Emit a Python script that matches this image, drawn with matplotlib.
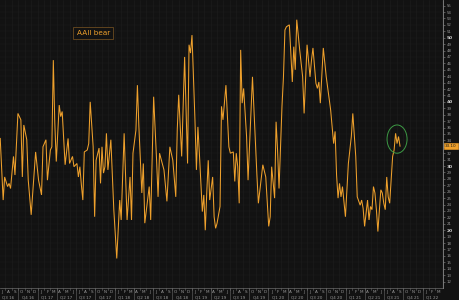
import numpy as np
import pandas as pd
import matplotlib
matplotlib.use("Agg")
import matplotlib.pyplot as plt
import matplotlib.dates as mdates
import matplotlib.transforms as mtransforms
from matplotlib.patches import Ellipse

# ---- data (AAII bearish %, weekly; week offsets from first survey date) ----
start_date = "2016-07-07"
week_offsets = [0,2,3,5,6,7,9,10,12,14,
                15,16,18,19,21,24,26,28,29,31,
                32,34,35,36,37,38,40,41,42,44,
                46,47,49,50,52,53,54,55,56,57,
                59,60,61,63,64,65,67,68,69,70,
                71,72,73,75,77,79,81,82,84,86,
                88,89,90,92,93,94,96,97,98,101,
                102,104,106,107,108,111,113,115,117,119,
                120,121,123,125,127,128,129,130,132,133,
                134,135,137,138,139,140,141,142,144,145,
                146,147,149,150,151,153,155,156,158,159,
                160,161,162,163,164,165,167,168,171,173,
                174,175,177,178,180,182,183,184,186,187,
                188,189,191,192,193,194,196,197,198,199,
                200,201,203,205,206,208,210,211,212,214,
                215,216,217,219,221,224,226,227,228,229,
                230,231,232,234,235,236,238,239,241,242,
                244,245,246,247,249,250,251,252,253,254,
                255,256,258,259,260,261,262,263,264,266,
                267,268,269,270,271]
bear_pct = [34.3,24.7,28.3,26.8,27.3,26.5,31.5,28.6,38.2,37.2,
            28.3,36.4,34.1,27.8,22.4,32.2,27.8,25.5,33.0,34.1,
            27.8,32.5,33.0,46.5,36.7,30.7,39.5,37.7,38.5,30.2,
            34.3,30.4,31.5,29.9,30.4,28.3,29.9,27.1,24.7,32.2,
            32.5,33.5,40.0,33.0,22.1,30.9,32.8,27.3,33.0,28.9,
            29.9,35.1,29.4,34.1,23.2,15.6,24.7,21.6,35.1,21.6,
            28.3,21.6,32.0,35.6,42.6,36.1,25.8,30.4,21.1,26.8,
            21.6,40.8,30.9,25.2,32.0,29.4,24.5,33.0,30.9,25.2,
            35.6,41.1,31.5,47.0,30.4,48.9,47.6,50.4,37.2,29.4,
            36.1,32.0,22.9,25.5,20.0,25.8,30.9,24.7,28.3,22.1,
            20.3,21.1,23.7,39.3,37.2,42.6,33.0,32.0,32.2,27.6,
            32.0,29.9,24.2,48.1,39.8,42.1,34.6,27.8,43.9,33.5,
            28.6,24.2,28.3,30.2,28.3,20.6,22.1,29.9,25.0,36.9,
            32.5,26.5,39.3,43.9,51.2,51.7,52.0,47.6,43.1,48.6,
            45.0,52.8,48.1,43.9,38.2,48.9,43.9,46.5,48.4,42.9,
            42.1,43.1,39.8,48.4,43.9,38.7,33.5,35.4,28.6,25.0,
            27.3,25.2,26.8,22.1,26.3,30.4,34.6,38.2,31.5,25.2,
            23.9,24.7,23.4,20.6,24.7,21.6,23.7,23.2,26.8,25.8,
            23.2,19.8,26.3,25.8,24.2,23.2,28.3,25.2,24.2,31.5,
            32.5,35.1,33.5,34.6,33.1]
series_label = "AAII bear"
x_start, x_end = "2016-07-06", "2022-04-08"
y_min, y_max = 11.0, 55.87

dates = pd.Timestamp(start_date) + pd.to_timedelta(np.array(week_offsets) * 7, unit="D")

BG = "#121212"
ORANGE = "#eea02c"
GRID = "#1d1d1d"
TXT = "#9a9a9a"

fig = plt.figure(figsize=(4.59, 3.0), dpi=100, facecolor=BG)
ax = fig.add_axes([0.0, 0.04, 443/459, 0.96])
ax.set_facecolor(BG)

ax.plot(dates, bear_pct, color=ORANGE, lw=0.75, solid_joinstyle="miter")

ax.set_xlim(pd.Timestamp(x_start), pd.Timestamp(x_end))
ax.set_ylim(y_min, y_max)

# grid
months = pd.date_range("2016-08-01", "2022-04-01", freq="MS")
for m in months:
    ax.axvline(m, color=GRID, lw=0.4, zorder=0)
for v in range(12, 56):
    ax.axhline(v, color=GRID, lw=0.35, zorder=0)

# spines
for s in ["top", "left", "bottom"]:
    ax.spines[s].set_visible(False)
ax.spines["right"].set_color("#8a8a8a")
ax.spines["right"].set_linewidth(0.6)

last = bear_pct[-1]

# right y axis
ax.yaxis.tick_right()
yt = list(range(12, 56))
ax.set_yticks(yt)
ax.set_yticklabels(["" if abs(v - last) < 0.8 else str(v) for v in yt])
ax.tick_params(axis="y", length=1.5, width=0.4, colors="#8a8a8a", labelsize=2.8, pad=1.2)
for lbl, v in zip(ax.get_yticklabels(), yt):
    lbl.set_color("#cfcfcf" if v % 10 == 0 else TXT)
    if v % 10 == 0:
        lbl.set_fontweight("bold")
        lbl.set_fontsize(3.2)

# x axis: month letters and quarter labels
ax.set_xticks([])
trans = mtransforms.blended_transform_factory(ax.transData, ax.transAxes)
ax.plot([0, 1], [0, 0], transform=ax.transAxes, color="#6a6a6a", lw=0.5, clip_on=False)
all_months = pd.date_range("2016-07-01", "2022-03-01", freq="MS")
for m in all_months:
    mid = m + pd.Timedelta(days=15)
    ax.text(mid, -0.014, m.strftime("%b")[0], transform=trans, ha="center", va="center",
            fontsize=3.0, color=TXT, clip_on=False)
    ax.plot([m, m], [0, -0.008], transform=trans, color="#6a6a6a", lw=0.4, clip_on=False)
quarters = pd.date_range("2016-07-01", "2022-01-01", freq="QS")
for q in quarters:
    mid = q + pd.Timedelta(days=45)
    ax.text(mid, -0.034, f"Q{(q.month - 1)//3 + 1} {q.strftime('%y')}", transform=trans,
            ha="center", va="center", fontsize=3.0, color=TXT, clip_on=False)
    ax.plot([q, q], [0, -0.045], transform=trans, color="#6a6a6a", lw=0.4, clip_on=False)

# legend-like label box
ax.text(0.173, 0.885, series_label, transform=ax.transAxes, fontsize=5.2, color=ORANGE,
        ha="left", va="center",
        bbox=dict(boxstyle="square,pad=0.45", fc=BG, ec="#6b4b20", lw=0.6))

# highlight ellipse around the latest readings
ax.add_patch(Ellipse((mdates.date2num(dates[-3]), 34.2), width=95, height=4.4,
                     fill=False, ec="#3d9a45", lw=0.7, zorder=5))

# last value tag on the axis
ax.annotate(f"{last:.2f}", xy=(1.0, last), xycoords=("axes fraction", "data"),
            xytext=(1.5, 0), textcoords="offset points", fontsize=3.0, color="#1a1a1a",
            ha="left", va="center", annotation_clip=False,
            bbox=dict(boxstyle="square,pad=0.25", fc=ORANGE, ec=ORANGE, lw=0.4))

fig.savefig("out.png", dpi=100, facecolor=BG)
